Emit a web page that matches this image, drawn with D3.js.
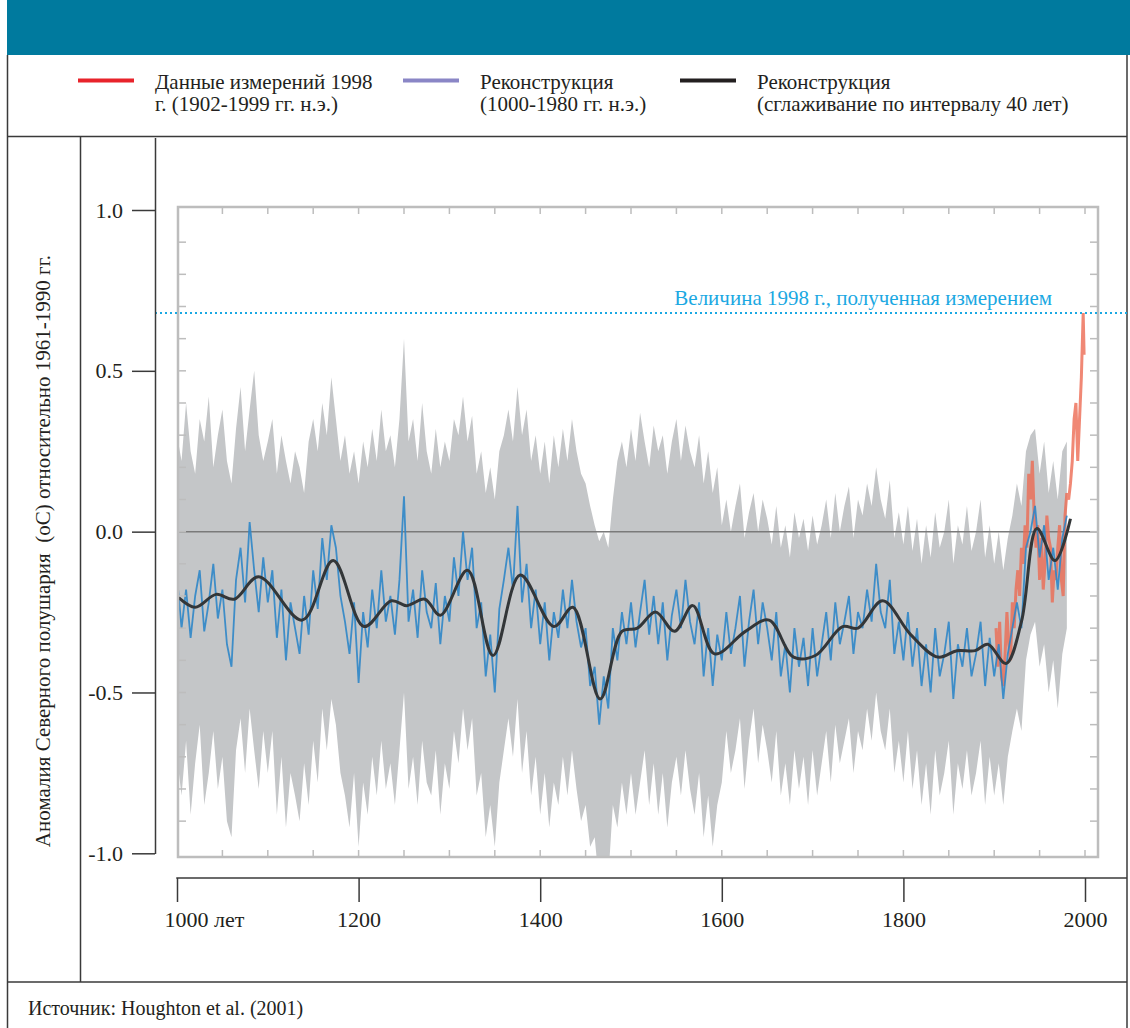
<!DOCTYPE html>
<html>
<head>
<meta charset="utf-8">
<script src="https://cdnjs.cloudflare.com/ajax/libs/d3/7.8.5/d3.min.js"></script>
<style>
  body { margin: 0; background: #fff; }
  svg text { font-family: "Liberation Serif", "Times New Roman", serif; fill: #231f20; }
</style>
</head>
<body>
<svg id="chart" width="1130" height="1028"></svg>
<script>
// Reconstruction (annual values, read every 5 years), 1000-1980
const reconYears = d3.range(1000, 1985, 5);
const reconValues = [
  -0.14, -0.30, -0.18, -0.33, -0.20, -0.12, -0.31, -0.22, -0.10, -0.27, -0.18, -0.35, -0.42, -0.15, -0.05, -0.22, 0.03, -0.12, -0.25, -0.08,
  -0.22, -0.12, -0.33, -0.18, -0.40, -0.22, -0.30, -0.38, -0.20, -0.32, -0.12, -0.24, -0.02, -0.15, 0.02, -0.05, -0.20, -0.28, -0.38, -0.22,
  -0.47, -0.25, -0.36, -0.18, -0.30, -0.12, -0.28, -0.20, -0.32, -0.15, 0.11, -0.28, -0.18, -0.33, -0.12, -0.25, -0.30, -0.16, -0.35, -0.20,
  -0.28, -0.08, -0.20, 0.00, -0.15, -0.05, -0.30, -0.22, -0.45, -0.32, -0.50, -0.24, -0.15, -0.05, -0.18, 0.08, -0.22, -0.10, -0.30, -0.18,
  -0.35, -0.22, -0.40, -0.25, -0.33, -0.18, -0.30, -0.15, -0.28, -0.36, -0.30, -0.48, -0.42, -0.60, -0.45, -0.55, -0.30, -0.40, -0.25, -0.35,
  -0.22, -0.36, -0.25, -0.15, -0.32, -0.20, -0.35, -0.22, -0.40, -0.26, -0.18, -0.30, -0.15, -0.28, -0.35, -0.22, -0.45, -0.30, -0.48, -0.32,
  -0.40, -0.25, -0.38, -0.30, -0.20, -0.42, -0.28, -0.18, -0.35, -0.22, -0.30, -0.40, -0.25, -0.45, -0.35, -0.50, -0.30, -0.42, -0.33, -0.48,
  -0.30, -0.45, -0.35, -0.25, -0.40, -0.22, -0.35, -0.28, -0.20, -0.38, -0.25, -0.30, -0.18, -0.28, -0.10, -0.25, -0.30, -0.15, -0.38, -0.28,
  -0.40, -0.25, -0.42, -0.30, -0.48, -0.35, -0.50, -0.30, -0.45, -0.38, -0.28, -0.52, -0.35, -0.42, -0.30, -0.45, -0.38, -0.28, -0.48, -0.33,
  -0.45, -0.35, -0.52, -0.38, -0.30, -0.22, -0.30, -0.05, 0.00, 0.08, -0.08, 0.02, -0.15, -0.05, -0.18, -0.02, 0.05
];

// Uncertainty band, same years
const bandHigh = [
  0.30, 0.22, 0.40, 0.25, 0.18, 0.35, 0.28, 0.42, 0.20, 0.30, 0.38, 0.22, 0.15, 0.32, 0.45, 0.25, 0.38, 0.50, 0.30, 0.22,
  0.28, 0.35, 0.18, 0.30, 0.22, 0.15, 0.25, 0.20, 0.12, 0.28, 0.35, 0.25, 0.40, 0.30, 0.48, 0.35, 0.22, 0.30, 0.18, 0.25,
  0.15, 0.28, 0.20, 0.32, 0.22, 0.38, 0.25, 0.30, 0.20, 0.35, 0.60, 0.28, 0.35, 0.22, 0.40, 0.25, 0.18, 0.32, 0.20, 0.28,
  0.22, 0.35, 0.30, 0.42, 0.28, 0.36, 0.18, 0.25, 0.12, 0.20, 0.10, 0.25, 0.30, 0.38, 0.28, 0.45, 0.30, 0.38, 0.22, 0.30,
  0.18, 0.28, 0.15, 0.30, 0.20, 0.32, 0.22, 0.35, 0.25, 0.18, 0.15, 0.08, 0.02, -0.03, 0.00, -0.05, 0.10, 0.22, 0.28, 0.20,
  0.32, 0.22, 0.37, 0.28, 0.20, 0.33, 0.25, 0.30, 0.18, 0.28, 0.35, 0.22, 0.33, 0.25, 0.20, 0.30, 0.15, 0.25, 0.12, 0.20,
  0.02, 0.10, 0.00, 0.08, 0.15, -0.02, 0.06, 0.12, 0.00, 0.10, 0.04, -0.04, 0.08, -0.05, 0.02, -0.08, 0.06, -0.02, 0.04, -0.06,
  0.05, -0.04, 0.02, 0.10, -0.02, 0.12, 0.00, 0.08, 0.14, -0.02, 0.10, 0.05, 0.15, 0.08, 0.20, 0.10, 0.04, 0.16, -0.02, 0.06,
  -0.04, 0.08, -0.06, 0.04, -0.10, 0.02, -0.08, 0.06, -0.05, 0.00, 0.10, -0.10, 0.02, -0.04, 0.08, -0.06, 0.00, 0.10, -0.08, 0.02,
  -0.10, 0.00, -0.12, -0.02, 0.05, 0.15, 0.08, 0.25, 0.30, 0.32, 0.18, 0.28, 0.12, 0.22, 0.10, 0.25, 0.28
];
const bandLow = [
  -0.70, -0.82, -0.65, -0.88, -0.72, -0.60, -0.85, -0.75, -0.62, -0.80, -0.70, -0.90, -0.95, -0.68, -0.58, -0.75, -0.55, -0.68, -0.80, -0.62,
  -0.75, -0.62, -0.88, -0.70, -0.92, -0.75, -0.82, -0.90, -0.72, -0.85, -0.65, -0.78, -0.55, -0.68, -0.52, -0.60, -0.75, -0.82, -0.92, -0.75,
  -0.98, -0.78, -0.88, -0.70, -0.82, -0.65, -0.80, -0.72, -0.85, -0.68, -0.50, -0.80, -0.70, -0.85, -0.65, -0.78, -0.82, -0.68, -0.88, -0.72,
  -0.80, -0.62, -0.72, -0.55, -0.68, -0.58, -0.82, -0.75, -0.95, -0.85, -0.98, -0.78, -0.68, -0.58, -0.70, -0.52, -0.75, -0.62, -0.82, -0.70,
  -0.88, -0.75, -0.92, -0.78, -0.85, -0.70, -0.82, -0.68, -0.80, -0.90, -0.85, -0.98, -0.95, -1.10, -1.05, -1.08, -0.85, -0.92, -0.78, -0.88,
  -0.75, -0.88, -0.78, -0.68, -0.85, -0.72, -0.88, -0.75, -0.92, -0.78, -0.70, -0.82, -0.68, -0.80, -0.88, -0.75, -0.95, -0.82, -0.98, -0.85,
  -0.78, -0.62, -0.75, -0.68, -0.58, -0.80, -0.65, -0.55, -0.72, -0.60, -0.68, -0.78, -0.62, -0.82, -0.72, -0.85, -0.68, -0.80, -0.70, -0.85,
  -0.68, -0.82, -0.72, -0.62, -0.78, -0.60, -0.72, -0.65, -0.58, -0.75, -0.62, -0.68, -0.55, -0.65, -0.50, -0.62, -0.68, -0.55, -0.75, -0.65,
  -0.78, -0.62, -0.80, -0.68, -0.85, -0.72, -0.88, -0.68, -0.82, -0.75, -0.65, -0.88, -0.72, -0.80, -0.68, -0.82, -0.75, -0.65, -0.85, -0.70,
  -0.82, -0.72, -0.85, -0.70, -0.62, -0.55, -0.62, -0.40, -0.32, -0.28, -0.42, -0.35, -0.50, -0.40, -0.55, -0.38, -0.30
];

// 40-year smoothed reconstruction
const smoothYears = [1000, 1020, 1043, 1063, 1090, 1138, 1172, 1206, 1236, 1253, 1273, 1290, 1320, 1348, 1378, 1415, 1436, 1466, 1490, 1507, 1527, 1548, 1568, 1592, 1626, 1652, 1679, 1703, 1733, 1750, 1777, 1808, 1838, 1859, 1879, 1893, 1913, 1930, 1947, 1967, 1984];
const smoothValues = [-0.20, -0.235, -0.195, -0.21, -0.14, -0.275, -0.09, -0.295, -0.215, -0.23, -0.21, -0.26, -0.12, -0.385, -0.135, -0.295, -0.235, -0.52, -0.31, -0.30, -0.25, -0.31, -0.23, -0.38, -0.31, -0.275, -0.39, -0.385, -0.295, -0.30, -0.215, -0.32, -0.39, -0.37, -0.37, -0.35, -0.41, -0.28, 0.01, -0.09, 0.04];

// Instrumental data 1902-1999
const measYears = [1902, 1904, 1906, 1908, 1910, 1912, 1914, 1916, 1918, 1920, 1922, 1924, 1926, 1928, 1930, 1932, 1934, 1936, 1938, 1940, 1942, 1944, 1946, 1948, 1950, 1952, 1954, 1956, 1958, 1960, 1962, 1964, 1966, 1968, 1970, 1972, 1974, 1976, 1978, 1980, 1982, 1984, 1986, 1988, 1990, 1992, 1994, 1996, 1998, 1999];
const measValues = [-0.30, -0.42, -0.28, -0.45, -0.48, -0.38, -0.25, -0.35, -0.40, -0.22, -0.30, -0.18, -0.12, -0.20, -0.05, -0.10, 0.02, -0.05, 0.18, 0.10, 0.22, 0.05, -0.05, 0.02, -0.15, -0.02, -0.18, -0.10, 0.05, -0.02, -0.05, -0.22, -0.12, -0.15, -0.05, 0.02, -0.15, -0.20, 0.05, 0.12, 0.10, 0.15, 0.22, 0.35, 0.40, 0.22, 0.35, 0.48, 0.68, 0.55];

const value1998 = 0.68;
const yTicks = [-1, -0.5, 0, 0.5, 1];
const xTicks = [1000, 1200, 1400, 1600, 1800, 2000];

const legendItems = [
  { color: '#e8232b', lines: ['Данные измерений 1998', 'г. (1902-1999 гг. н.э.)'], x: 78 },
  { color: '#8a86c6', lines: ['Реконструкция', '(1000-1980 гг. н.э.)'], x: 403 },
  { color: '#231f20', lines: ['Реконструкция', '(сглаживание по интервалу 40 лет)'], x: 680 }
];

const svg = d3.select('#chart');

// Scales
const x = d3.scaleLinear().domain([1000, 2000]).range([177, 1085]);
const y = d3.scaleLinear().domain([-1, 1]).range([853.3, 210]);

// Inner frame (embedded plot)
const frame = { left: x(1000) + 1, right: 1098, top: 207, bottom: 857 };

// Header band
svg.append('rect').attr('x', 7).attr('y', 0).attr('width', 1123).attr('height', 55).attr('fill', '#007a9e');

// Outer rules
const rule = (x1, y1, x2, y2) => svg.append('line')
  .attr('x1', x1).attr('y1', y1).attr('x2', x2).attr('y2', y2)
  .attr('stroke', '#3a3a3a').attr('stroke-width', 1.5);
rule(7.5, 55, 7.5, 1028);
rule(1127, 55, 1127, 1028);
rule(7, 136.5, 1127, 136.5);
rule(7, 982, 1127, 982);
rule(80.5, 136.5, 80.5, 982);

// Legend
legendItems.forEach(item => {
  svg.append('line')
    .attr('x1', item.x).attr('x2', item.x + 56)
    .attr('y1', 80.5).attr('y2', 80.5)
    .attr('stroke', item.color).attr('stroke-width', 4);
  const t = svg.append('text').attr('x', item.x + 77).attr('y', 89).style('font-size', '21px');
  item.lines.forEach((l, i) => {
    t.append('tspan').attr('x', item.x + 77).attr('dy', i === 0 ? 0 : 22).text(l);
  });
});

// Plot contents, clipped to the inner frame
svg.append('clipPath').attr('id', 'frameClip')
  .append('rect')
  .attr('x', frame.left).attr('y', frame.top)
  .attr('width', frame.right - frame.left).attr('height', frame.bottom - frame.top);

const plot = svg.append('g').attr('clip-path', 'url(#frameClip)');

const band = reconYears.map((yr, i) => ({ year: yr, hi: bandHigh[i], lo: bandLow[i] }));
plot.append('path')
  .datum(band)
  .attr('fill', '#c4c6c8')
  .attr('d', d3.area().x(d => x(d.year)).y0(d => y(d.lo)).y1(d => y(d.hi)));

// Zero line
plot.append('line')
  .attr('x1', frame.left).attr('x2', frame.right)
  .attr('y1', y(0)).attr('y2', y(0))
  .attr('stroke', '#7a7a7a').attr('stroke-width', 1.5);

const line = d3.line().x(d => x(d[0])).y(d => y(d[1]));

plot.append('path')
  .datum(d3.zip(measYears, measValues))
  .attr('fill', 'none')
  .attr('stroke', '#ec6a52')
  .attr('stroke-opacity', 0.8)
  .attr('stroke-width', 3)
  .attr('d', line);

plot.append('path')
  .datum(d3.zip(reconYears, reconValues))
  .attr('fill', 'none')
  .attr('stroke', '#2f86c8')
  .attr('stroke-opacity', 0.9)
  .attr('stroke-width', 1.8)
  .attr('d', line);

plot.append('path')
  .datum(d3.zip(smoothYears, smoothValues))
  .attr('fill', 'none')
  .attr('stroke', '#333638')
  .attr('stroke-width', 3)
  .attr('d', line.curve(d3.curveCatmullRom));

// Inner frame with its own small ticks
const inner = svg.append('g').attr('stroke', '#bdbdbd');
inner.append('rect')
  .attr('x', frame.left).attr('y', frame.top)
  .attr('width', frame.right - frame.left).attr('height', frame.bottom - frame.top)
  .attr('fill', 'none').attr('stroke-width', 2.5);
const innerY = d3.range(-9, 10).map(v => v / 10);
inner.selectAll('.tl').data(innerY).join('line')
  .attr('x1', frame.left).attr('x2', frame.left + 8)
  .attr('y1', d => y(d)).attr('y2', d => y(d)).attr('stroke-width', 1.5);
inner.selectAll('.tr').data(innerY).join('line')
  .attr('x1', frame.right - 8).attr('x2', frame.right)
  .attr('y1', d => y(d)).attr('y2', d => y(d)).attr('stroke-width', 1.5);
const innerX = d3.range(1050, 2001, 50);
inner.selectAll('.tt').data(innerX).join('line')
  .attr('x1', d => x(d)).attr('x2', d => x(d))
  .attr('y1', frame.top).attr('y2', frame.top + 7).attr('stroke-width', 1.5);
inner.selectAll('.tb').data(innerX).join('line')
  .attr('x1', d => x(d)).attr('x2', d => x(d))
  .attr('y1', frame.bottom - 7).attr('y2', frame.bottom).attr('stroke-width', 1.5);

// 1998 measured value
svg.append('line')
  .attr('x1', 155).attr('x2', 1127)
  .attr('y1', y(value1998)).attr('y2', y(value1998))
  .attr('stroke', '#1aa8e2').attr('stroke-width', 2)
  .attr('stroke-dasharray', '2,3');
svg.append('text')
  .attr('x', 1052).attr('y', y(value1998) - 8)
  .attr('text-anchor', 'end')
  .style('font-size', '21px')
  .style('fill', '#1aa8e2')
  .text('Величина 1998 г., полученная измерением');

// Y axis
const yAxis = svg.append('g')
  .attr('transform', 'translate(155,0)')
  .call(d3.axisLeft(y).tickValues(yTicks).tickSize(23).tickPadding(9).tickFormat(d => d.toFixed(1)));
yAxis.select('.domain').remove();
yAxis.selectAll('.tick line').attr('stroke', '#3a3a3a').attr('stroke-width', 1.5);
yAxis.selectAll('.tick text').style('font-size', '22px').style('font-family', '"Liberation Serif", serif').attr('fill', '#231f20');
svg.append('line')
  .attr('x1', 155.5).attr('x2', 155.5).attr('y1', 138).attr('y2', y(-1) + 0.75)
  .attr('stroke', '#3a3a3a').attr('stroke-width', 1.5);

// X axis
const xAxis = svg.append('g')
  .attr('transform', 'translate(0,878)')
  .call(d3.axisBottom(x).tickValues(xTicks).tickSize(24).tickPadding(9).tickFormat(d => d === 1000 ? '1000 лет' : d));
xAxis.select('.domain').remove();
xAxis.selectAll('.tick line').attr('stroke', '#3a3a3a').attr('stroke-width', 1.5);
xAxis.selectAll('.tick text').style('font-size', '22px').style('font-family', '"Liberation Serif", serif').attr('fill', '#231f20');
xAxis.selectAll('.tick text').filter(d => d === 1000).attr('text-anchor', 'start').attr('x', -13);
svg.append('line')
  .attr('x1', x(1000) - 0.75).attr('x2', 1127).attr('y1', 878).attr('y2', 878)
  .attr('stroke', '#3a3a3a').attr('stroke-width', 1.5);

// Y axis title
svg.append('text')
  .attr('transform', 'translate(50,551) rotate(-90)')
  .attr('text-anchor', 'middle')
  .style('font-size', '21px')
  .style('white-space', 'pre')
  .text('Аномалия Северного полушария  (oC) относительно 1961-1990 гг.');

// Source
svg.append('text')
  .attr('x', 28).attr('y', 1015)
  .style('font-size', '20px')
  .text('Источник: Houghton et al. (2001)');
</script>
</body>
</html>
